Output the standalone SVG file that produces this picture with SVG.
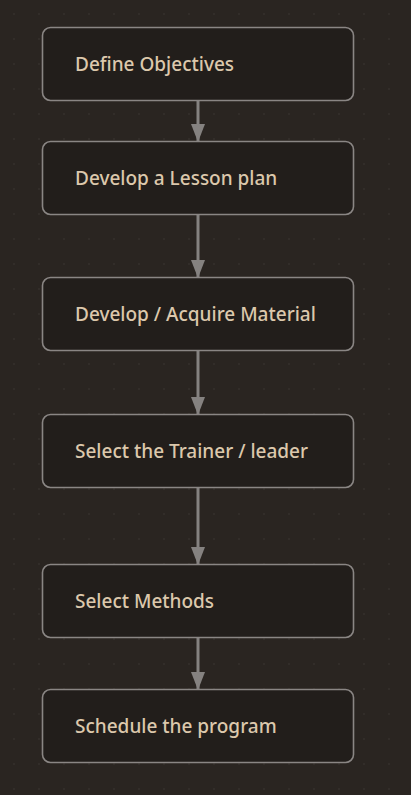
<svg xmlns="http://www.w3.org/2000/svg" width="411" height="795" viewBox="0 0 411 795">
<defs>
<pattern id="grid" x="0" y="0" width="25" height="25" patternUnits="userSpaceOnUse">
<circle cx="14" cy="14" r="0.8" fill="#3a3531"/>
</pattern>
<marker id="ah" markerWidth="18" markerHeight="14" refX="17" refY="7" orient="auto" markerUnits="userSpaceOnUse" viewBox="0 0 18 14">
<path d="M0,0 L18,7 L0,14 Z" fill="#858280"/>
</marker>
</defs>
<style>
.box{fill:#221e1b;stroke:#8a8684;stroke-width:1.6}
.lbl{font-family:"Noto Sans","Open Sans",sans-serif;font-size:19px;font-weight:500;fill:#dcc8ac}
.edge{stroke:#858280;stroke-width:3;fill:none}
</style>
<rect width="411" height="795" fill="#2a2521"/>
<rect width="411" height="795" fill="url(#grid)"/>
<g id="connectors">
<line class="edge" x1="198" y1="101" x2="198" y2="141" marker-end="url(#ah)"/>
<line class="edge" x1="198" y1="215" x2="198" y2="277" marker-end="url(#ah)"/>
<line class="edge" x1="198" y1="351" x2="198" y2="414" marker-end="url(#ah)"/>
<line class="edge" x1="198" y1="488" x2="198" y2="564" marker-end="url(#ah)"/>
<line class="edge" x1="198" y1="638" x2="198" y2="689" marker-end="url(#ah)"/>
</g>
<g id="n1"><rect class="box" x="42.5" y="27.5" width="311" height="73" rx="8"/><text class="lbl" x="75" y="70.5">Define Objectives</text></g>
<g id="n2"><rect class="box" x="42.5" y="141.5" width="311" height="73" rx="8"/><text class="lbl" x="75" y="184.5">Develop a Lesson plan</text></g>
<g id="n3"><rect class="box" x="42.5" y="277.5" width="311" height="73" rx="8"/><text class="lbl" x="75" y="320.5">Develop / Acquire Material</text></g>
<g id="n4"><rect class="box" x="42.5" y="414.5" width="311" height="73" rx="8"/><text class="lbl" x="75" y="457.5">Select the Trainer / leader</text></g>
<g id="n5"><rect class="box" x="42.5" y="564.5" width="311" height="73" rx="8"/><text class="lbl" x="75" y="607.5">Select Methods</text></g>
<g id="n6"><rect class="box" x="42.5" y="689.5" width="311" height="73" rx="8"/><text class="lbl" x="75" y="732.5">Schedule the program</text></g>
</svg>
